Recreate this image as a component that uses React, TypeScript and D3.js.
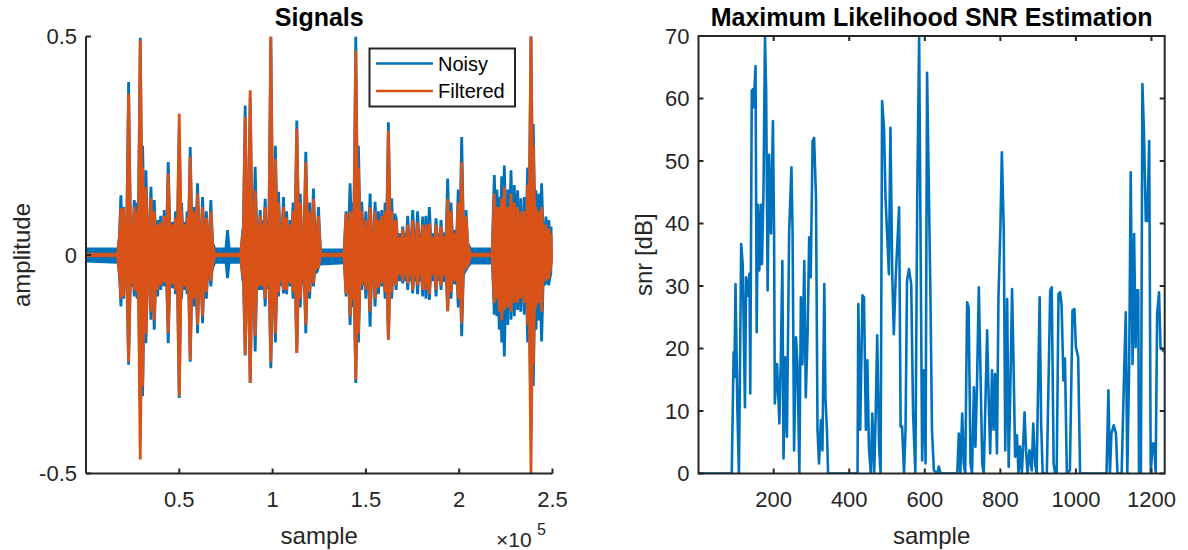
import React from "react";
import * as d3 from "d3";

// ---------- Left panel data (amplitude envelopes) ----------
// core band: [sample, upper, lower]
const noisyCore: [number, number, number][] = [
  [1, 0.017, -0.017], [16500, 0.017, -0.02], [17500, 0.05, -0.06], [22000, 0.07, -0.07],
  [30000, 0.08, -0.08], [40000, 0.06, -0.07], [50000, 0.07, -0.08], [60000, 0.07, -0.08],
  [67000, 0.05, -0.05], [69500, 0.017, -0.02], [83500, 0.017, -0.02], [85000, 0.07, -0.08],
  [95000, 0.08, -0.08], [105000, 0.07, -0.07], [115000, 0.06, -0.07], [124500, 0.04, -0.04],
  [125500, 0.015, -0.024], [138500, 0.015, -0.021], [140000, 0.06, -0.07], [150000, 0.06, -0.07],
  [160000, 0.05, -0.06], [175000, 0.05, -0.06], [190000, 0.05, -0.06], [200000, 0.06, -0.07],
  [205000, 0.03, -0.03], [206500, 0.017, -0.022], [217500, 0.017, -0.022], [219000, 0.07, -0.08],
  [230000, 0.08, -0.09], [240000, 0.08, -0.09], [249000, 0.05, -0.06], [250000, 0.04, -0.04],
];
const filteredCore: [number, number, number][] = [
  [1, 0.004, -0.004], [16500, 0.004, -0.004], [17500, 0.045, -0.045], [22000, 0.06, -0.06],
  [30000, 0.07, -0.07], [40000, 0.05, -0.06], [50000, 0.06, -0.07], [60000, 0.06, -0.07],
  [67000, 0.04, -0.04], [69500, 0.004, -0.004], [83500, 0.004, -0.004], [85000, 0.06, -0.07],
  [95000, 0.07, -0.07], [105000, 0.06, -0.06], [115000, 0.05, -0.06], [124500, 0.03, -0.03],
  [125500, 0.004, -0.004], [138500, 0.004, -0.004], [140000, 0.05, -0.05], [150000, 0.045, -0.05],
  [160000, 0.04, -0.045], [175000, 0.04, -0.045], [190000, 0.04, -0.045], [200000, 0.045, -0.05],
  [205000, 0.025, -0.025], [206500, 0.004, -0.004], [217500, 0.004, -0.004], [219000, 0.045, -0.05],
  [230000, 0.05, -0.06], [240000, 0.05, -0.06], [249000, 0.035, -0.04], [250000, 0.02, -0.02],
];
// spikes: [sample, peak, trough]
const noisySpikes: [number, number, number][] = [
  [18700, 0.137, -0.118], [20150, 0.11, -0.1], [22830, 0.396, -0.251], [25870, 0.126, -0.095],
  [27400, 0.12, -0.1], [29080, 0.497, -0.33], [30330, 0.25, -0.323], [32110, 0.194, -0.202],
  [34790, 0.156, -0.148], [36575, 0.126, -0.171], [38360, 0.08, -0.095], [40000, 0.09, -0.08],
  [41930, 0.103, -0.065], [44070, 0.213, -0.202], [46390, 0.076, -0.034], [48000, 0.1, -0.09],
  [49960, 0.285, -0.327], [51200, 0.12, -0.1], [52640, 0.076, -0.065], [54200, 0.1, -0.09],
  [55850, 0.247, -0.244], [57995, 0.11, -0.118], [59780, 0.164, -0.179], [62460, 0.133, -0.156],
  [64500, 0.1, -0.1], [66920, 0.126, -0.072], [75845, 0.057, -0.053],
  [84056, 0.06, -0.06], [85305, 0.342, -0.23], [87983, 0.361, -0.293], [90660, 0.202, -0.221],
  [93338, 0.103, -0.08], [96015, 0.129, -0.118], [99050, 0.5, -0.259], [101500, 0.25, -0.2],
  [103155, 0.145, -0.095], [105833, 0.133, -0.088], [107500, 0.1, -0.09], [109403, 0.08, -0.072],
  [111000, 0.12, -0.1], [112973, 0.308, -0.224], [114800, 0.14, -0.12], [117790, 0.236, -0.179],
  [119800, 0.12, -0.1], [121898, 0.152, -0.072], [124570, 0.11, -0.03],
  [139390, 0.1, -0.095], [141530, 0.164, -0.16], [143000, 0.12, -0.12], [144570, 0.5, -0.293],
  [146000, 0.25, -0.2], [147780, 0.122, -0.08], [150000, 0.1, -0.1], [152240, 0.141, -0.164],
  [154920, 0.122, -0.118], [156700, 0.1, -0.09], [158490, 0.103, -0.072], [160300, 0.12, -0.1],
  [162060, 0.304, -0.194], [163800, 0.13, -0.1], [165630, 0.095, -0.065], [166170, 0.088, -0.08],
  [169740, 0.065, -0.065], [172400, 0.09, -0.08], [175090, 0.103, -0.088], [177700, 0.1, -0.09],
  [180450, 0.088, -0.095], [182200, 0.09, -0.1], [184015, 0.11, -0.103], [187590, 0.084, -0.095],
  [190260, 0.08, -0.08], [193830, 0.175, -0.129], [195600, 0.12, -0.1], [197400, 0.057, -0.065],
  [199500, 0.15, -0.12], [201330, 0.27, -0.186], [203650, 0.103, -0.019],
  [218820, 0.183, -0.137], [220200, 0.15, -0.14], [221500, 0.133, -0.171], [222800, 0.18, -0.2],
  [224180, 0.205, -0.232], [226000, 0.15, -0.16], [227750, 0.194, -0.148], [229500, 0.16, -0.14],
  [231320, 0.148, -0.126], [233000, 0.13, -0.13], [234890, 0.133, -0.137], [236700, 0.2, -0.2],
  [238460, 0.502, -0.4], [239700, 0.3, -0.3], [241140, 0.148, -0.171], [242600, 0.14, -0.15],
  [244170, 0.164, -0.198], [246490, 0.088, -0.065], [248000, 0.08, -0.07], [249700, 0.065, -0.019],
];
const filteredSpikes: [number, number, number][] = [
  [18700, 0.107, -0.1], [20150, 0.107, -0.095], [22830, 0.369, -0.244], [25870, 0.11, -0.08],
  [27400, 0.1, -0.085], [29080, 0.491, -0.468], [30330, 0.2, -0.3], [32110, 0.156, -0.18],
  [34790, 0.13, -0.13], [36575, 0.1, -0.15], [38360, 0.07, -0.08], [40000, 0.075, -0.07],
  [41930, 0.09, -0.06], [44070, 0.186, -0.179], [46390, 0.07, -0.03], [48000, 0.085, -0.08],
  [49960, 0.323, -0.323], [51200, 0.1, -0.085], [52640, 0.07, -0.06], [54200, 0.085, -0.08],
  [55850, 0.224, -0.24], [57995, 0.1, -0.1], [59780, 0.141, -0.16], [62460, 0.11, -0.14],
  [64500, 0.085, -0.085], [66920, 0.1, -0.06],
  [84056, 0.05, -0.05], [85305, 0.316, -0.228], [87983, 0.377, -0.293], [90660, 0.148, -0.186],
  [93338, 0.09, -0.07], [96015, 0.11, -0.1], [99050, 0.5, -0.244], [101500, 0.22, -0.18],
  [103155, 0.12, -0.085], [105833, 0.11, -0.08], [107500, 0.085, -0.08], [109403, 0.07, -0.065],
  [111000, 0.1, -0.085], [112973, 0.289, -0.224], [114800, 0.12, -0.1], [117790, 0.213, -0.16],
  [119800, 0.1, -0.085], [121898, 0.129, -0.065], [124570, 0.09, -0.03],
  [139390, 0.095, -0.09], [141530, 0.099, -0.14], [143000, 0.1, -0.1], [144570, 0.468, -0.285],
  [146000, 0.2, -0.18], [147780, 0.1, -0.07], [150000, 0.08, -0.08], [152240, 0.11, -0.13],
  [154920, 0.1, -0.1], [156700, 0.08, -0.075], [158490, 0.09, -0.065], [160300, 0.1, -0.085],
  [162060, 0.285, -0.194], [163800, 0.1, -0.085], [165630, 0.08, -0.06], [166170, 0.08, -0.07],
  [169740, 0.06, -0.06], [172400, 0.07, -0.065], [175090, 0.08, -0.08], [177700, 0.075, -0.07],
  [180450, 0.07, -0.08], [182200, 0.07, -0.08], [184015, 0.072, -0.09], [187590, 0.07, -0.08],
  [190260, 0.065, -0.07], [193830, 0.129, -0.129], [195600, 0.1, -0.085], [197400, 0.05, -0.06],
  [199500, 0.12, -0.1], [201330, 0.213, -0.156], [203650, 0.09, -0.01],
  [218820, 0.141, -0.11], [220200, 0.11, -0.1], [221500, 0.11, -0.13], [222800, 0.13, -0.15],
  [224180, 0.156, -0.126], [226000, 0.11, -0.12], [227750, 0.141, -0.13], [229500, 0.12, -0.11],
  [231320, 0.11, -0.11], [233000, 0.1, -0.1], [234890, 0.1, -0.11], [236700, 0.16, -0.16],
  [238460, 0.502, -0.5], [239700, 0.25, -0.25], [241140, 0.11, -0.12], [242600, 0.1, -0.11],
  [244170, 0.11, -0.13], [246490, 0.07, -0.06], [248000, 0.06, -0.055], [249700, 0.05, -0.015],
];
const leftXTicks = [50000, 100000, 150000, 200000, 250000];
const leftXTickLabels = ["0.5", "1", "1.5", "2", "2.5"];
const leftYTicks = [-0.5, 0, 0.5];
const leftYTickLabels = ["-0.5", "0", "0.5"];

// ---------- Right panel data: [sample, snr dB] ----------
const snrSeries: [number, number][] = [
  [1, 0], [89, 0], [94, 19.4], [96, 15.4], [99, 30.3], [104, 10], [108, 0], [114, 36.7], [118, 33.5],
  [124, 10.6], [127, 31.4], [131, 28.4], [136, 32], [138, 12.8], [142, 61.2], [145, 61.5], [147, 58.6],
  [152, 65.2], [155, 22.6], [158, 43], [162, 32.5], [166, 43], [169, 33.5], [173, 45.3], [177, 70],
  [180, 61.2], [184, 29.3], [188, 51], [193, 38.4], [198, 56.4], [201, 38.8], [203, 11.2], [209, 17.5],
  [215, 8], [219, 18.6], [223, 34], [226, 2.4], [231, 18.6], [235, 5.9], [241, 38.8], [247, 49],
  [250, 38.8], [254, 3.7], [259, 21.8], [263, 17.5], [268, 0], [272, 28.2], [276, 17.5], [281, 34],
  [285, 12.2], [290, 22.9], [294, 37.8], [298, 31.4], [303, 53.2], [307, 53.7], [312, 44.2], [316, 7],
  [320, 1.6], [325, 8.5], [329, 3.7], [334, 30.3], [337, 12.2], [341, 7], [344, 0], [422, 0],
  [424, 27.1], [429, 7], [435, 28.5], [439, 28.2], [444, 7], [448, 18.1], [452, 4.3], [457, 0],
  [461, 9.6], [466, 0], [470, 9.6], [474, 22.1], [479, 4.3], [483, 0], [487, 59.6], [492, 55.3],
  [496, 44.2], [505, 31.9], [509, 55.3], [514, 31.4], [518, 22.3], [523, 31.4], [532, 42.6], [536, 7.5],
  [540, 7.5], [545, 0], [549, 7], [553, 30.9], [558, 32.7], [564, 30.3], [569, 9.6], [575, 0],
  [580, 44.2], [585, 70], [588, 44.2], [593, 2.1], [598, 16.5], [602, 1.6], [606, 64.1], [611, 44.2],
  [615, 28.2], [619, 7], [624, 0.5], [633, 0], [637, 1.1], [642, 0], [686, 0], [690, 6.4], [694, 0],
  [699, 9.6], [703, 1.6], [707, 0], [712, 27.4], [716, 26.6], [721, 1.6], [725, 0], [730, 13.8],
  [734, 4.3], [738, 13.8], [743, 29.8], [747, 17.5], [752, 1.6], [756, 0], [765, 22.9], [769, 12.2],
  [773, 3.2], [778, 16.5], [782, 7], [786, 15.9], [791, 3.2], [795, 28.2], [800, 38.9], [804, 51.4],
  [809, 38.9], [813, 3.7], [818, 27.9], [822, 1.1], [826, 12.2], [831, 29.5], [835, 17.5], [839, 2.7],
  [844, 6.1], [848, 0], [852, 4.3], [857, 0], [864, 9.8], [868, 3.7], [872, 0], [877, 3.7], [883, 0.5],
  [887, 8], [892, 1.6], [896, 0], [904, 28.2], [908, 8], [912, 0], [923, 0], [932, 29.3], [936, 29.8],
  [941, 1.6], [945, 0], [949, 0], [954, 28.7], [958, 29], [962, 27.1], [967, 14.9], [971, 18.4],
  [976, 0], [984, 0.5], [991, 26.1], [996, 26.3], [1000, 20.2], [1006, 18.6], [1011, 0], [1081, 0],
  [1086, 13.3], [1090, 0], [1094, 6.4], [1100, 7.7], [1106, 6.4], [1110, 0], [1121, 0], [1128, 17],
  [1132, 25.8], [1136, 0], [1141, 17.5], [1145, 48.2], [1150, 17.5], [1154, 38.3], [1158, 20.2],
  [1160, 29.3], [1165, 29.3], [1167, 0], [1172, 0], [1176, 62.3], [1180, 54.8], [1185, 40.4],
  [1189, 40.4], [1194, 53.2], [1198, 0], [1203, 4.8], [1207, 4.8], [1211, 0], [1215, 25.5],
  [1220, 29], [1224, 20.2], [1230, 19.7], [1235, 19.5],
];
const rightXTicks = [200, 400, 600, 800, 1000, 1200];
const rightYTicks = [0, 10, 20, 30, 40, 50, 60, 70];

const BLUE = "#0072BD";
const ORANGE = "#D95319";
const AX = "#262626";
const FONT = "'Liberation Sans', Arial, Helvetica, sans-serif";

export default function App() {
  // Left axes
  const lx = d3.scaleLinear().domain([1, 250000]).range([86, 552.5]);
  const ly = d3.scaleLinear().domain([-0.5, 0.5]).range([473.5, 36.5]);
  // Right axes
  const rx = d3.scaleLinear().domain([1, 1235]).range([698.5, 1164.7]);
  const ry = d3.scaleLinear().domain([0, 70]).range([473.5, 36]);

  const band = d3
    .area<[number, number, number]>()
    .x((d) => lx(d[0]))
    .y0((d) => ly(d[2]))
    .y1((d) => ly(d[1]));
  const snrLine = d3
    .line<[number, number]>()
    .x((d) => rx(d[0]))
    .y((d) => ry(d[1]));

  // spike glyph: tapered vertical stroke from trough to peak
  const spikePath = (d: [number, number, number]) => {
    const x = lx(d[0]);
    const yt = ly(d[1]);
    const yb = ly(d[2]);
    const y0 = ly(0);
    const hw0 = 3.6;
    const hw1 = 1.4;
    return `M${x - hw1},${yt}L${x + hw1},${yt}L${x + hw0},${y0}L${x + hw1},${yb}L${x - hw1},${yb}L${x - hw0},${y0}Z`;
  };

  const tickLen = 5;
  const [lx0, lx1] = lx.range();
  const [ly0, ly1] = ly.range();
  const [rx0, rx1] = rx.range();
  const [ry0, ry1] = ry.range();

  return (
    <svg
      width={1188}
      height={550}
      style={{ position: "absolute", left: 0, top: 0, background: "#fff" }}
      fontFamily={FONT}
    >
      <defs>
        <clipPath id="clipL">
          <rect x={lx0} y={ly1} width={lx1 - lx0} height={ly0 - ly1} />
        </clipPath>
        <clipPath id="clipR">
          <rect x={rx0} y={ry1} width={rx1 - rx0} height={ry0 - ry1} />
        </clipPath>
      </defs>

      {/* ---------------- Left panel ---------------- */}
      <g clipPath="url(#clipL)">
        <path d={band(noisyCore) || ""} fill={BLUE} />
        {noisySpikes.map((d, i) => (
          <path key={"ns" + i} d={spikePath(d)} fill={BLUE} />
        ))}
        <path d={band(filteredCore) || ""} fill={ORANGE} stroke={ORANGE} strokeWidth={1} />
        {filteredSpikes.map((d, i) => (
          <path key={"fs" + i} d={spikePath(d)} fill={ORANGE} />
        ))}
      </g>
      {/* axes lines */}
      <line x1={lx0} x2={lx0} y1={ly1} y2={ly0} stroke={AX} strokeWidth={2} />
      <line x1={lx0} x2={lx1} y1={ly0} y2={ly0} stroke={AX} strokeWidth={2} />
      {leftYTicks.map((t, i) => (
        <g key={"lyt" + i}>
          <line x1={lx0} x2={lx0 + tickLen} y1={ly(t)} y2={ly(t)} stroke={AX} strokeWidth={2} />
          <text x={lx0 - 9} y={ly(t)} dy="0.35em" textAnchor="end" fontSize={22} fill={AX}>
            {leftYTickLabels[i]}
          </text>
        </g>
      ))}
      {leftXTicks.map((t, i) => (
        <g key={"lxt" + i}>
          <line x1={lx(t)} x2={lx(t)} y1={ly0} y2={ly0 - tickLen} stroke={AX} strokeWidth={2} />
          <text x={lx(t)} y={ly0 + 33} textAnchor="middle" fontSize={22} fill={AX}>
            {leftXTickLabels[i]}
          </text>
        </g>
      ))}
      <text x={(lx0 + lx1) / 2} y={544} textAnchor="middle" fontSize={24} fill={AX}>
        sample
      </text>
      <text x={496} y={547} fontSize={21} fill={AX}>
        ×10
      </text>
      <text x={537} y={535} fontSize={16} fill={AX}>
        5
      </text>
      <text
        transform={`translate(30,${(ly0 + ly1) / 2}) rotate(-90)`}
        textAnchor="middle"
        fontSize={24}
        fill={AX}
      >
        amplitude
      </text>
      <text x={(lx0 + lx1) / 2} y={26} textAnchor="middle" fontSize={25} fontWeight="bold" fill="#000">
        Signals
      </text>
      {/* legend */}
      <g>
        <rect x={369.5} y={48.5} width={145.5} height={58} fill="#fff" stroke={AX} strokeWidth={2} />
        <line x1={376} x2={433} y1={63.5} y2={63.5} stroke={BLUE} strokeWidth={2.5} />
        <line x1={376} x2={433} y1={91} y2={91} stroke={ORANGE} strokeWidth={2.5} />
        <text x={438} y={63.5} dy="0.35em" fontSize={20} fill="#000">
          Noisy
        </text>
        <text x={438} y={91} dy="0.35em" fontSize={20} fill="#000">
          Filtered
        </text>
      </g>

      {/* ---------------- Right panel ---------------- */}
      <g clipPath="url(#clipR)">
        <path d={snrLine(snrSeries) || ""} fill="none" stroke={BLUE} strokeWidth={2.6} strokeLinejoin="round" />
      </g>
      <rect x={rx0} y={ry1} width={rx1 - rx0} height={ry0 - ry1} fill="none" stroke={AX} strokeWidth={2} />
      {rightYTicks.map((t, i) => (
        <g key={"ryt" + i}>
          <line x1={rx0} x2={rx0 + tickLen} y1={ry(t)} y2={ry(t)} stroke={AX} strokeWidth={2} />
          <line x1={rx1} x2={rx1 - tickLen} y1={ry(t)} y2={ry(t)} stroke={AX} strokeWidth={2} />
          <text x={rx0 - 9} y={ry(t)} dy="0.35em" textAnchor="end" fontSize={22} fill={AX}>
            {t}
          </text>
        </g>
      ))}
      {rightXTicks.map((t, i) => (
        <g key={"rxt" + i}>
          <line x1={rx(t)} x2={rx(t)} y1={ry0} y2={ry0 - tickLen} stroke={AX} strokeWidth={2} />
          <line x1={rx(t)} x2={rx(t)} y1={ry1} y2={ry1 + tickLen} stroke={AX} strokeWidth={2} />
          <text x={rx(t)} y={ry0 + 33} textAnchor="middle" fontSize={22} fill={AX}>
            {t}
          </text>
        </g>
      ))}
      <text x={(rx0 + rx1) / 2} y={544} textAnchor="middle" fontSize={24} fill={AX}>
        sample
      </text>
      <text
        transform={`translate(652,${(ry0 + ry1) / 2}) rotate(-90)`}
        textAnchor="middle"
        fontSize={24}
        fill={AX}
      >
        snr [dB]
      </text>
      <text x={(rx0 + rx1) / 2} y={26} textAnchor="middle" fontSize={25} fontWeight="bold" fill="#000">
        Maximum Likelihood SNR Estimation
      </text>
    </svg>
  );
}
